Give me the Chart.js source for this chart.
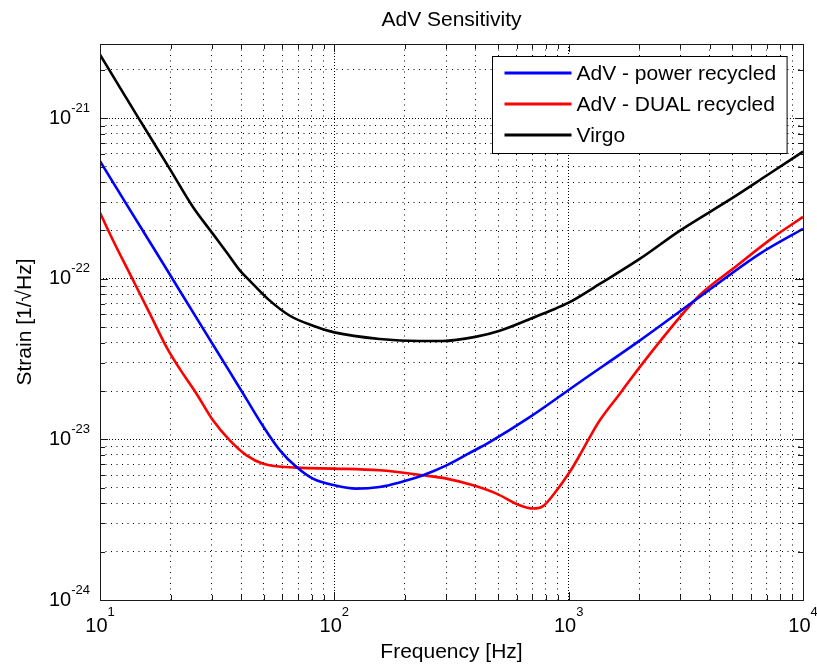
<!DOCTYPE html>
<html>
<head>
<meta charset="utf-8">
<title>AdV Sensitivity</title>
<script src="https://cdn.jsdelivr.net/npm/chart.js@4"></script>
<style>
  body { margin: 0; background: #fff; }
  #wrap { width: 817px; height: 666px; }
</style>
</head>
<body>
<div id="wrap"><canvas id="chart"></canvas></div>
<script>
// values (frequency in Hz, strain in 1/sqrt(Hz))
const powerFreq = [10, 13, 17, 22, 28, 35, 42, 50, 58.6, 69, 81, 100, 124, 156, 190, 239, 301, 378, 460, 682, 1114, 2009, 3620, 6530, 10000];
const powerStrain = [5.41e-22, 2.9e-22, 1.54e-22, 8.34e-23, 4.71e-23, 2.78e-23, 1.8e-23, 1.19e-23, 8.55e-24, 6.73e-24, 5.7e-24, 5.18e-24, 4.94e-24, 5.06e-24, 5.4e-24, 5.98e-24, 6.89e-24, 8.24e-24, 9.62e-24, 1.375e-23, 2.27e-23, 4.12e-23, 7.7e-23, 1.43e-22, 2.05e-22];

const dualFreq = [10, 11.4, 13.43, 16.3, 19.3, 21.9, 25.85, 30.4, 35.8, 42.2, 49.7, 69, 100, 156, 239, 301, 391, 492, 618, 704, 777, 857, 1010, 1114, 1229, 1356, 1650, 1820, 2373, 3620, 5003, 7413, 10000];
const dualStrain = [2.58e-22, 1.72e-22, 1.07e-22, 6.1e-23, 3.72e-23, 2.75e-23, 1.92e-23, 1.31e-23, 9.86e-24, 7.96e-24, 7.06e-24, 6.67e-24, 6.58e-24, 6.42e-24, 5.98e-24, 5.7e-24, 5.18e-24, 4.6e-24, 3.89e-24, 3.71e-24, 3.84e-24, 4.49e-24, 6.26e-24, 7.96e-24, 1.03e-23, 1.31e-23, 1.92e-23, 2.33e-23, 3.84e-23, 7.9e-23, 1.15e-22, 1.8e-22, 2.43e-22];

const virgoFreq = [10, 12.17, 14.81, 19.88, 24.93, 30.33, 35, 39.5, 43.6, 52, 64.6, 81.2, 100, 156, 230, 290, 400, 508, 700, 830, 1000, 1357, 2009, 2974, 5003, 7000, 10000];
const virgoStrain = [2.49e-21, 1.55e-21, 9.7e-22, 4.82e-22, 2.8e-22, 1.905e-22, 1.44e-22, 1.13e-22, 9.72e-23, 7.5e-23, 5.89e-23, 5.1e-23, 4.64e-23, 4.22e-23, 4.1e-23, 4.1e-23, 4.35e-23, 4.75e-23, 5.7e-23, 6.3e-23, 7.1e-23, 9.3e-23, 1.33e-22, 1.99e-22, 3.19e-22, 4.4e-22, 6.2e-22];

const seriesLabels = ['AdV - power recycled', 'AdV - DUAL recycled', 'Virgo'];
const seriesColors = ['#0000ff', '#ff0000', '#000000'];

const xMajorTicks = [10, 100, 1000, 10000];
const xTickExps = ['1', '2', '3', '4'];
const yMajorTicks = [1e-24, 1e-23, 1e-22, 1e-21];
const yTickExps = ['-24', '-23', '-22', '-21'];

const xMin = 10, xMax = 10000;
const yMin = 1e-24, yMax = 2.9e-21;

const FONT = '"Liberation Sans", Arial, sans-serif';
Chart.defaults.font.family = FONT;
Chart.defaults.color = '#000';

function toPoints(freq, vals) {
    return freq.map((f, i) => ({ x: f, y: vals[i] }));
}

function isDecade(v) {
    const l = Math.log10(v);
    return Math.abs(l - Math.round(l)) < 1e-6;
}

// 1..9 x 10^n ticks, like a matlab log grid
function logTicks(min, max) {
    const out = [];
    for (let e = Math.floor(Math.log10(min)); e <= Math.ceil(Math.log10(max)); e++) {
        for (let m = 1; m <= 9; m++) {
            const v = m * Math.pow(10, e);
            if (v >= min * 0.999 && v <= max * 1.001) out.push({ value: v });
        }
    }
    return out;
}

const gridDash = ctx => (ctx.tick && isDecade(ctx.tick.value)) ? [1, 2] : [1, 4.5];

const matlabAxes = {
    id: 'matlabAxes',
    afterDatasetsDraw(chart) {
        const { ctx, chartArea: a, scales: { x, y } } = chart;
        ctx.save();
        ctx.strokeStyle = '#1a1a1a';
        ctx.lineWidth = 1;
        ctx.setLineDash([]);
        ctx.beginPath();
        x.ticks.forEach(t => {
            const px = Math.round(x.getPixelForValue(t.value)) + 0.5;
            const len = isDecade(t.value) ? 8 : 5;
            ctx.moveTo(px, a.bottom); ctx.lineTo(px, a.bottom - len);
            ctx.moveTo(px, a.top); ctx.lineTo(px, a.top + len);
        });
        y.ticks.forEach(t => {
            const py = Math.round(y.getPixelForValue(t.value)) + 0.5;
            const len = isDecade(t.value) ? 8 : 5;
            ctx.moveTo(a.left, py); ctx.lineTo(a.left + len, py);
            ctx.moveTo(a.right, py); ctx.lineTo(a.right - len, py);
        });
        ctx.stroke();
        ctx.strokeRect(Math.round(a.left) + 0.5, Math.round(a.top) + 0.5,
            Math.round(a.right - a.left), Math.round(a.bottom - a.top));
        ctx.restore();
    },
    afterDraw(chart) {
        const { ctx, chartArea: a, scales: { x, y } } = chart;
        const big = '20px ' + FONT, small = '13px ' + FONT;
        ctx.save();
        ctx.fillStyle = '#000';
        ctx.textBaseline = 'middle';
        ctx.textAlign = 'left';

        // x tick labels, 10 with a raised exponent
        xMajorTicks.forEach((v, i) => {
            ctx.font = big;
            const wb = ctx.measureText('10').width;
            ctx.font = small;
            const we = ctx.measureText(xTickExps[i]).width;
            const px = x.getPixelForValue(v);
            const x0 = px - (wb + we) / 2;
            ctx.font = big;
            ctx.fillText('10', x0, a.bottom + 26);
            ctx.font = small;
            ctx.fillText(xTickExps[i], x0 + wb, a.bottom + 12);
        });

        // y tick labels, right aligned
        yMajorTicks.forEach((v, i) => {
            ctx.font = big;
            const wb = ctx.measureText('10').width;
            ctx.font = small;
            const we = ctx.measureText(yTickExps[i]).width;
            const py = y.getPixelForValue(v);
            const right = a.left - 10;
            ctx.font = big;
            ctx.fillText('10', right - we - wb, py);
            ctx.font = small;
            ctx.fillText(yTickExps[i], right - we, py - 10);
        });

        // legend box in the upper right corner
        const ds = chart.data.datasets;
        ctx.font = '21px ' + FONT;
        const textW = Math.max(...ds.map(d => ctx.measureText(d.label).width));
        const lineLen = 67, pad = 12, gap = 5, rowH = 31;
        const boxW = pad + lineLen + gap + textW + 11;
        const boxH = rowH * ds.length + 4;
        const bx = Math.round(a.right - 16 - boxW) + 0.5;
        const by = Math.round(a.top + 12) + 0.5;
        ctx.fillStyle = '#fff';
        ctx.fillRect(bx, by, boxW, boxH);
        ctx.strokeStyle = '#000';
        ctx.lineWidth = 1;
        ctx.strokeRect(bx, by, boxW, boxH);
        ds.forEach((d, i) => {
            const ly = by + 16.5 + rowH * i;
            ctx.strokeStyle = d.borderColor;
            ctx.lineWidth = 3;
            ctx.beginPath();
            ctx.moveTo(bx + pad, ly);
            ctx.lineTo(bx + pad + lineLen, ly);
            ctx.stroke();
            ctx.fillStyle = '#000';
            ctx.fillText(d.label, bx + pad + lineLen + gap, ly + 1.5);
        });
        ctx.restore();
    }
};

new Chart(document.getElementById('chart').getContext('2d'), {
    type: 'scatter',
    data: {
        datasets: [
            { label: seriesLabels[0], data: toPoints(powerFreq, powerStrain) },
            { label: seriesLabels[1], data: toPoints(dualFreq, dualStrain) },
            { label: seriesLabels[2], data: toPoints(virgoFreq, virgoStrain) }
        ].map((d, i) => Object.assign(d, {
            borderColor: seriesColors[i],
            backgroundColor: seriesColors[i],
            borderWidth: 2.6,
            showLine: true,
            pointRadius: 0,
            cubicInterpolationMode: 'monotone'
        }))
    },
    options: {
        responsive: true,
        maintainAspectRatio: false,
        animation: false,
        layout: { padding: { left: 0, right: 14, top: 0, bottom: 0 } },
        scales: {
            x: {
                type: 'logarithmic',
                position: 'bottom',
                min: xMin,
                max: xMax,
                afterBuildTicks: s => { s.ticks = logTicks(xMin, xMax); },
                ticks: { display: false },
                grid: { color: '#000', lineWidth: 1, drawTicks: false },
                border: { display: false, dash: gridDash },
                title: {
                    display: true, text: 'Frequency [Hz]', color: '#000',
                    font: { size: 21 }, padding: { top: 39.4, bottom: 1.4 }
                }
            },
            y: {
                type: 'logarithmic',
                position: 'left',
                min: yMin,
                max: yMax,
                afterBuildTicks: s => { s.ticks = logTicks(yMin, yMax); },
                ticks: { display: false },
                grid: { color: '#000', lineWidth: 1, drawTicks: false },
                border: { display: false, dash: gridDash },
                title: {
                    display: true, text: 'Strain [1/\u221AHz]', color: '#000',
                    font: { size: 21 }, padding: { top: 12.4, bottom: 62.4 }
                }
            }
        },
        plugins: {
            legend: { display: false },
            tooltip: { enabled: false },
            title: {
                display: true, text: 'AdV Sensitivity', color: '#000',
                fullSize: false,
                font: { size: 21, weight: 'normal' },
                padding: { top: 7.4, bottom: 11.4 }
            }
        }
    },
    plugins: [matlabAxes]
});
</script>
</body>
</html>
